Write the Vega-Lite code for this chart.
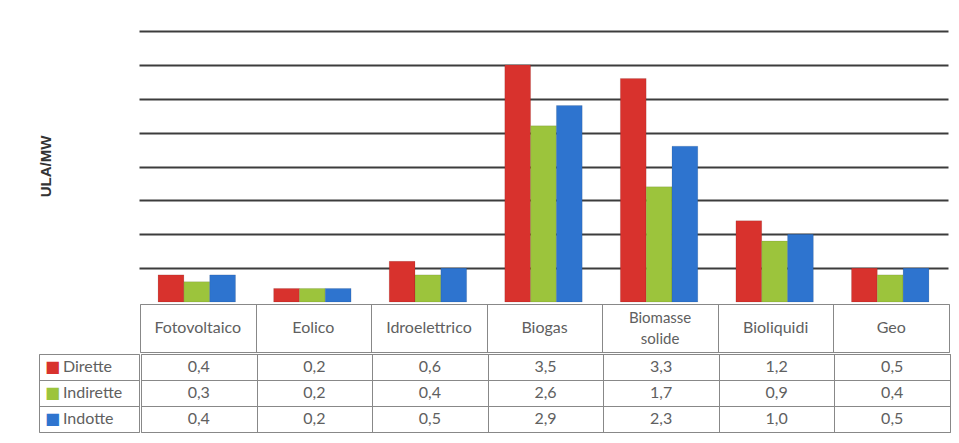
{
  "$schema": "https://vega.github.io/schema/vega-lite/v6.json",
  "padding": {"left": 38, "top": 31, "right": 5, "bottom": 5},
  "background": "white",
  "spacing": 0,
  "config": {
    "locale": {"number": {"decimal": ",", "thousands": ".", "grouping": [3], "currency": ["€", ""]}},
    "font": "Lato",
    "concat": {"spacing": 0}
  },
  "datasets": {
    "d": [
      {"cat": "Fotovoltaico", "series": "Dirette", "value": 0.4},
      {"cat": "Fotovoltaico", "series": "Indirette", "value": 0.3},
      {"cat": "Fotovoltaico", "series": "Indotte", "value": 0.4},
      {"cat": "Eolico", "series": "Dirette", "value": 0.2},
      {"cat": "Eolico", "series": "Indirette", "value": 0.2},
      {"cat": "Eolico", "series": "Indotte", "value": 0.2},
      {"cat": "Idroelettrico", "series": "Dirette", "value": 0.6},
      {"cat": "Idroelettrico", "series": "Indirette", "value": 0.4},
      {"cat": "Idroelettrico", "series": "Indotte", "value": 0.5},
      {"cat": "Biogas", "series": "Dirette", "value": 3.5},
      {"cat": "Biogas", "series": "Indirette", "value": 2.6},
      {"cat": "Biogas", "series": "Indotte", "value": 2.9},
      {"cat": "Biomasse solide", "series": "Dirette", "value": 3.3},
      {"cat": "Biomasse solide", "series": "Indirette", "value": 1.7},
      {"cat": "Biomasse solide", "series": "Indotte", "value": 2.3},
      {"cat": "Bioliquidi", "series": "Dirette", "value": 1.2},
      {"cat": "Bioliquidi", "series": "Indirette", "value": 0.9},
      {"cat": "Bioliquidi", "series": "Indotte", "value": 1.0},
      {"cat": "Geo", "series": "Dirette", "value": 0.5},
      {"cat": "Geo", "series": "Indirette", "value": 0.4},
      {"cat": "Geo", "series": "Indotte", "value": 0.5}
    ],
    "blank": [{"title": "ULA/MW"}]
  },
  "vconcat": [
    {
      "hconcat": [
        {
          "width": 100,
          "height": 271,
          "data": {"name": "blank"},
          "view": {"stroke": null},
          "mark": {"type": "text", "angle": 270, "fontSize": 15, "fontWeight": "bold", "font": "Liberation Sans", "color": "#333", "baseline": "middle", "dy": -43},
          "encoding": {"text": {"field": "title", "type": "nominal"}}
        },
        {
          "width": 809,
          "height": 271,
          "data": {"name": "d"},
          "view": {"stroke": null},
          "mark": {"type": "bar", "stroke": "#00000033", "strokeWidth": 0.5},
          "encoding": {
            "x": {
              "field": "cat", "type": "nominal",
              "scale": {"domain": ["Fotovoltaico", "Eolico", "Idroelettrico", "Biogas", "Biomasse solide", "Bioliquidi", "Geo"], "paddingInner": 0.33, "paddingOuter": 0.165},
              "axis": null
            },
            "xOffset": {
              "field": "series", "type": "nominal",
              "scale": {"domain": ["Dirette", "Indirette", "Indotte"], "paddingInner": 0, "paddingOuter": 0}
            },
            "y": {
              "field": "value", "type": "quantitative",
              "scale": {"domain": [0, 4], "nice": false},
              "axis": {
                "values": [0.5, 1, 1.5, 2, 2.5, 3, 3.5, 4],
                "labels": false, "ticks": false, "domain": false,
                "grid": true, "gridColor": "#3c3c3c", "gridWidth": 2, "title": null
              }
            },
            "color": {
              "field": "series", "type": "nominal",
              "scale": {"domain": ["Dirette", "Indirette", "Indotte"], "range": ["#D8322D", "#9CC43C", "#2E74CF"]},
              "legend": null
            }
          }
        }
      ]
    },
    {
      "hconcat": [
        {
          "width": 100,
          "height": 48,
          "data": {"name": "blank"},
          "view": {"stroke": null},
          "mark": {"type": "text", "text": ""},
          "encoding": {}
        },
        {
          "width": 809,
          "height": 48,
          "data": {"name": "d"},
          "transform": [{"filter": "datum.series === 'Dirette'"}],
          "view": {"stroke": "#888", "strokeWidth": 1},
          "encoding": {
            "x": {
              "field": "cat", "type": "nominal",
              "scale": {"domain": ["Fotovoltaico", "Eolico", "Idroelettrico", "Biogas", "Biomasse solide", "Bioliquidi", "Geo"], "paddingInner": 0, "paddingOuter": 0},
              "axis": {"labels": false, "ticks": false, "domain": false, "grid": true, "gridColor": "#888", "tickBand": "extent", "title": null}
            },
            "text": {"field": "cat", "type": "nominal"}
          },
          "layer": [
            {
              "transform": [{"filter": "datum.cat !== 'Biomasse solide'"}],
              "mark": {"type": "text", "fontSize": 16, "color": "#606060", "baseline": "middle"}
            },
            {
              "transform": [{"filter": "datum.cat === 'Biomasse solide'"}],
              "mark": {"type": "text", "lineBreak": " ", "lineHeight": 21, "dy": -10, "fontSize": 15, "color": "#606060", "baseline": "middle"}
            }
          ]
        }
      ]
    },
    {
      "hconcat": [
        {
          "width": 100,
          "height": 78,
          "data": {"name": "d"},
          "transform": [{"filter": "datum.cat === 'Geo'"}],
          "view": {"stroke": "#888", "strokeWidth": 1},
          "encoding": {
            "y": {
              "field": "series", "type": "nominal",
              "scale": {"domain": ["Dirette", "Indirette", "Indotte"], "paddingInner": 0, "paddingOuter": 0},
              "axis": {"labels": false, "ticks": false, "domain": false, "grid": true, "gridColor": "#888", "tickBand": "extent", "title": null}
            }
          },
          "layer": [
            {
              "mark": {"type": "text", "text": "■", "align": "left", "dx": -44, "fontSize": 16, "baseline": "middle", "font": "DejaVu Sans"},
              "encoding": {
                "color": {
                  "field": "series", "type": "nominal",
                  "scale": {"domain": ["Dirette", "Indirette", "Indotte"], "range": ["#C0302C", "#8FB03A", "#2D62A8"]},
                  "legend": null
                }
              }
            },
            {
              "mark": {"type": "text", "align": "left", "dx": -26, "fontSize": 16, "color": "#606060", "baseline": "middle"},
              "encoding": {"text": {"field": "series", "type": "nominal"}}
            }
          ]
        },
        {
          "width": 809,
          "height": 78,
          "data": {"name": "d"},
          "view": {"stroke": "#888", "strokeWidth": 1},
          "mark": {"type": "text", "fontSize": 16, "color": "#606060", "baseline": "middle"},
          "encoding": {
            "x": {
              "field": "cat", "type": "nominal",
              "scale": {"domain": ["Fotovoltaico", "Eolico", "Idroelettrico", "Biogas", "Biomasse solide", "Bioliquidi", "Geo"], "paddingInner": 0, "paddingOuter": 0},
              "axis": {"labels": false, "ticks": false, "domain": false, "grid": true, "gridColor": "#888", "tickBand": "extent", "title": null}
            },
            "y": {
              "field": "series", "type": "nominal",
              "scale": {"domain": ["Dirette", "Indirette", "Indotte"], "paddingInner": 0, "paddingOuter": 0},
              "axis": {"labels": false, "ticks": false, "domain": false, "grid": true, "gridColor": "#888", "tickBand": "extent", "title": null}
            },
            "text": {"field": "value", "type": "quantitative", "format": ".1f"}
          }
        }
      ]
    }
  ]
}
